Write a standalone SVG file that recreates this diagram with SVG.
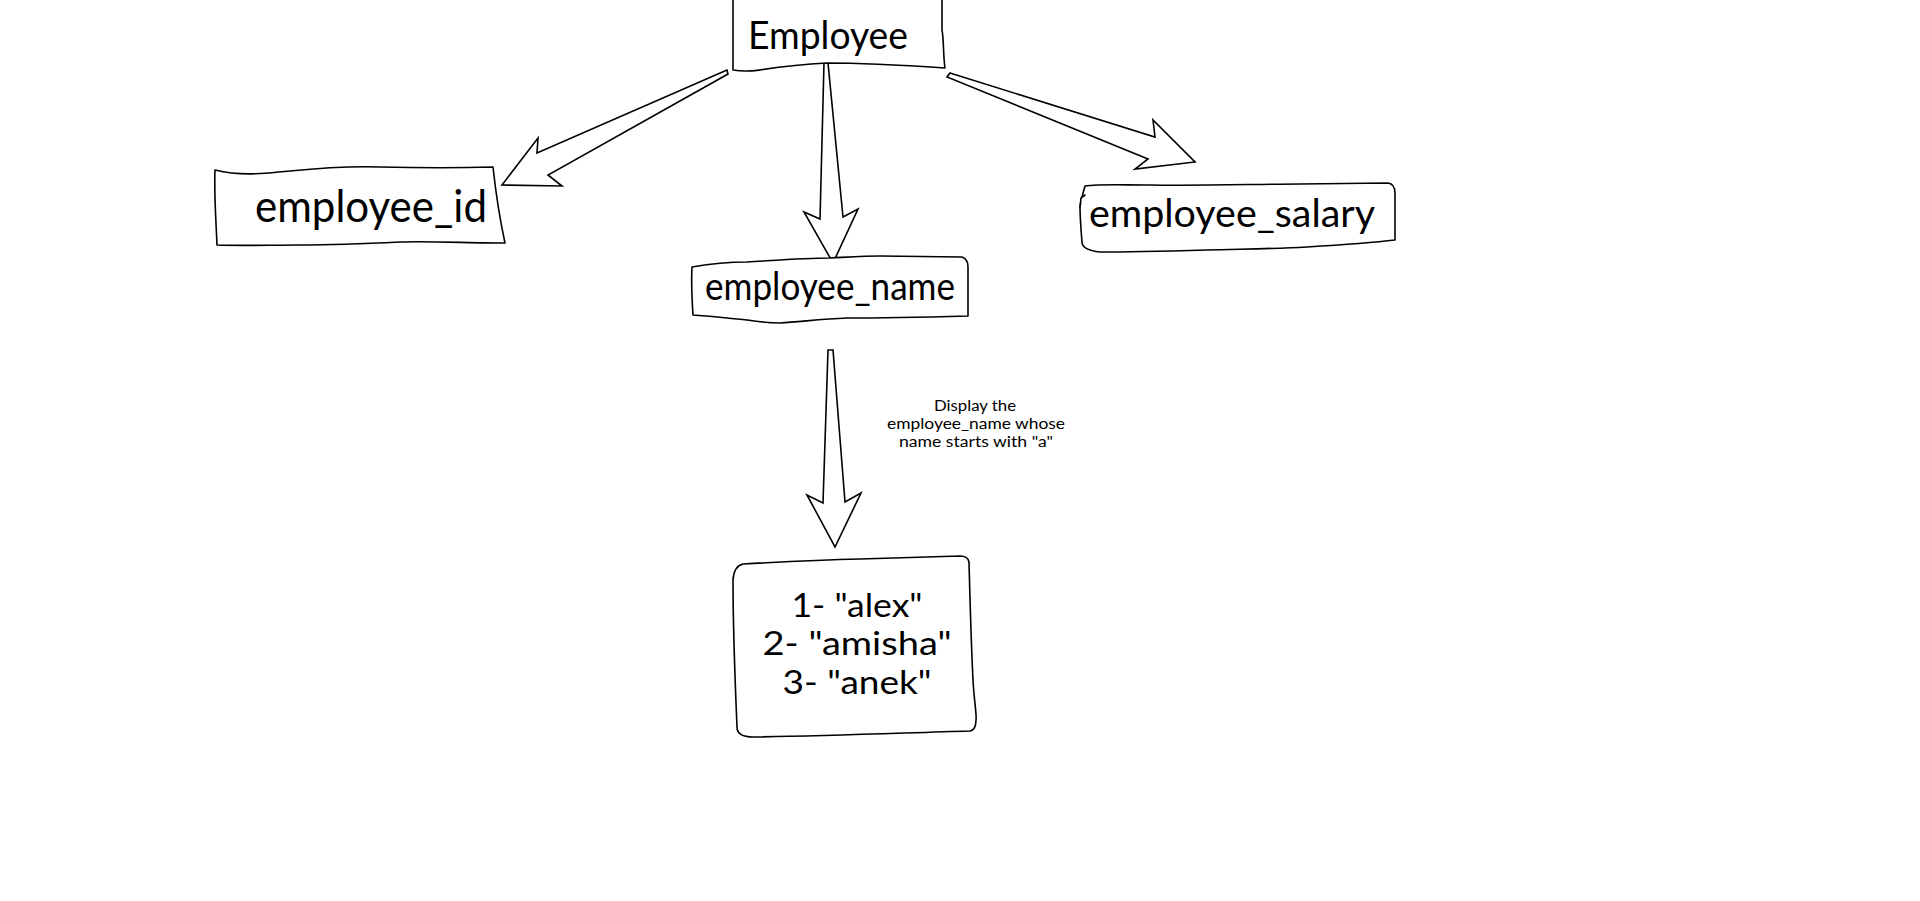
<svg xmlns="http://www.w3.org/2000/svg" width="1920" height="901" viewBox="0 0 1920 901">
<style>
.box{fill:#ffffff;stroke:#000000;stroke-width:1.6;stroke-linejoin:round;stroke-linecap:round}
.arrow{fill:#ffffff;stroke:#000000;stroke-width:1.6;stroke-linejoin:miter}
.t{font-family:Lato,"Liberation Sans",sans-serif;fill:#000000}
</style>
<rect x="0" y="0" width="1920" height="901" fill="#ffffff"/>
<g id="connectors">
<polygon class="arrow" points="727,70 537,153 538,138 502,185 562,186 548,175 728,74"/>
<polygon class="arrow" points="824,63 820,219 804,212 833,263 858,209 843,217 828,63"/>
<polygon class="arrow" points="950,73 1155,137 1153,120 1195,162 1135,169 1148,159 947,77"/>
<polygon class="arrow" points="828,350 823,503 807,495 835,547 861,493 845,502 833,350"/>
<g id="edge-label">
<text class="t" x="975" y="411" font-size="15.5" text-anchor="middle" textLength="82" lengthAdjust="spacingAndGlyphs">Display the</text>
<text class="t" x="976" y="429" font-size="15.5" text-anchor="middle" textLength="178" lengthAdjust="spacingAndGlyphs">employee_name whose</text>
<text class="t" x="976" y="447" font-size="15.5" text-anchor="middle" textLength="154" lengthAdjust="spacingAndGlyphs">name starts with "a"</text>
</g>
</g>
<g id="node-employee">
<path class="box" d="M733,-3 L733,70 C745,72 752,71 760,70 C785,66 805,64 827,63 C860,63 900,65 945,68 C943,55 944,40 942,30 L942,-3"/>
<text class="t" x="748" y="49" font-size="38" textLength="160" lengthAdjust="spacingAndGlyphs">Employee</text>
</g>
<g id="node-employee-id">
<path class="box" d="M215,170 C240,176 260,174 290,171 C320,168 350,166 380,167 C420,168 460,168 493,167 C496,195 500,220 505,243 C470,243 430,241 400,242 C360,244 330,245 300,245 C270,245 240,246 217,245 C216,220 214,195 215,170 Z"/>
<text class="t" x="255" y="222" font-size="45" textLength="232" lengthAdjust="spacingAndGlyphs">employee_id</text>
</g>
<g id="node-employee-name">
<path class="box" d="M692,267 C715,263 730,262 747,262 C780,260 805,258 830,258 C850,257 865,256 880,256 L962,257 Q968,259 968,267 L968,316 C930,317 890,318 847,318 C820,319 800,322 780,323 C765,323 755,321 747,320 C725,318 710,316 693,315 C692,300 691,285 692,267 Z"/>
<text class="t" x="705" y="300" font-size="38" textLength="250" lengthAdjust="spacingAndGlyphs">employee_name</text>
</g>
<g id="node-employee-salary">
<path class="box" d="M1085,186 C1100,184 1120,185 1150,185 C1200,186 1260,184 1300,184 L1388,183 Q1395,184 1395,193 L1395,240 C1370,243 1340,245 1307,247 C1270,249 1240,249 1207,250 C1170,251 1130,252 1100,252 Q1082,250 1082,242 C1081,230 1080,218 1080,207 C1081,200 1083,193 1085,186 Z"/>
<path class="box" d="M1085,195 L1081,198 L1080,207" fill="none"/>
<text class="t" x="1089" y="227" font-size="39" textLength="286" lengthAdjust="spacingAndGlyphs">employee_salary</text>
</g>
<g id="node-result">
<path class="box" d="M743,564 C780,562 820,560 860,559 C900,558 930,557 960,556 Q968,556 969,562 C970,600 971,640 973,680 C974,700 977,716 976,720 Q976,730 970,731 C900,733 830,736 753,737 Q737,737 737,727 C735,680 733,630 733,580 Q734,566 743,564 Z"/>
<text class="t" x="857" y="617" font-size="33" text-anchor="middle" textLength="131" lengthAdjust="spacingAndGlyphs">1- "alex"</text>
<text class="t" x="857" y="655" font-size="33" text-anchor="middle" textLength="189" lengthAdjust="spacingAndGlyphs">2- "amisha"</text>
<text class="t" x="857" y="694" font-size="33" text-anchor="middle" textLength="149" lengthAdjust="spacingAndGlyphs">3- "anek"</text>
</g>
</svg>
